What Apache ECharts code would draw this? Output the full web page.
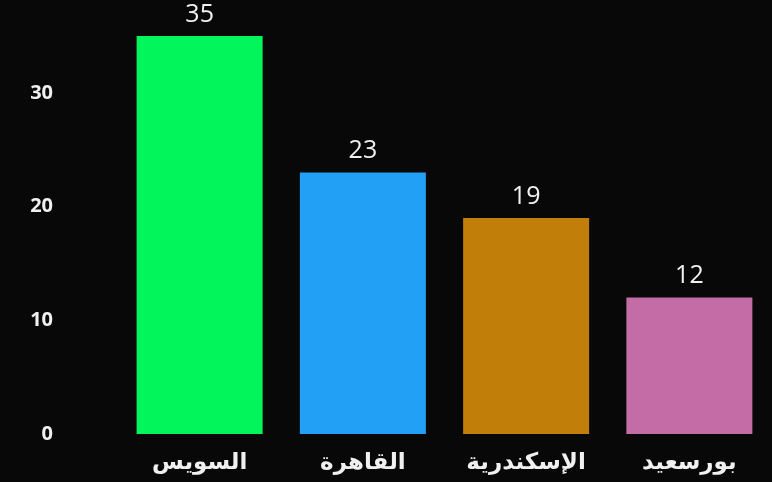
<!DOCTYPE html>
<html><head><meta charset="utf-8">
<script src="https://cdn.jsdelivr.net/npm/echarts@6/dist/echarts.min.js"></script>
<style>html,body{margin:0;padding:0;background:#080808}#c{width:772px;height:482px}</style>
</head><body><div id="c"></div>
<script>
const categories = ["السويس", "القاهرة", "الإسكندرية", "بورسعيد"];
const values = [35, 23, 19, 12];
const colors = ["#02F55A", "#22A0F5", "#C17F0A", "#C46CA6"];
const yTicks = [0, 10, 20, 30];

const chart = echarts.init(document.getElementById('c'));
chart.setOption({
  backgroundColor: '#080808',
  animation: false,
  grid: { left: 118, right: 1, top: 36, bottom: 48 },
  xAxis: {
    type: 'category',
    data: categories,
    axisLine: { show: false },
    axisTick: { show: false },
    axisLabel: { color: '#f0f0f0', fontSize: 23, fontWeight: 'bold', fontFamily: 'DejaVu Sans, Noto Sans', margin: 18 }
  },
  yAxis: {
    type: 'value',
    min: yTicks[0], max: values[0], interval: 10,
    splitLine: { show: false },
    axisLine: { show: false },
    axisTick: { show: false },
    axisLabel: { color: '#f0f0f0', fontSize: 20, fontWeight: 'bold', fontFamily: 'Open Sans, Noto Sans', margin: 65, showMaxLabel: false }
  },
  series: [{
    type: 'bar',
    barWidth: 126,
    data: values.map((v, i) => ({ value: v, itemStyle: { color: colors[i] } })),
    label: { show: true, position: 'top', distance: 9, color: '#f0f0f0', fontSize: 25, fontFamily: 'Open Sans, Noto Sans' }
  }]
});
</script></body></html>
